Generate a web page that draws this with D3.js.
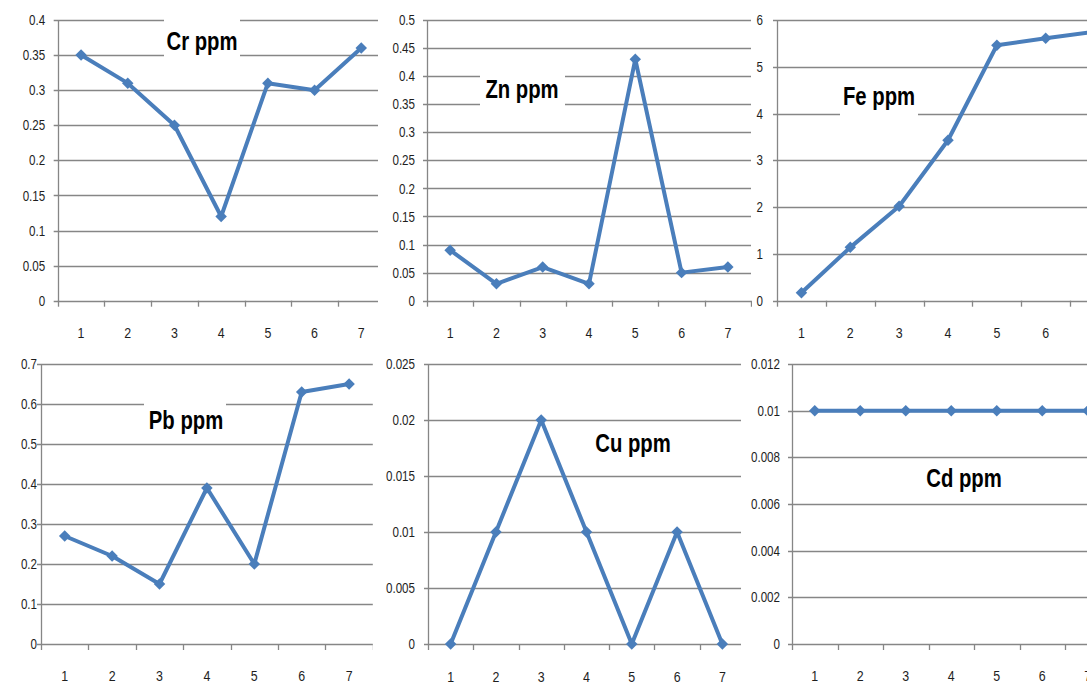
<!DOCTYPE html>
<html>
<head>
<meta charset="utf-8">
<script src="https://cdn.jsdelivr.net/npm/d3@7"></script>
<style>
  html, body { margin: 0; padding: 0; background: #fff; }
  svg { display: block; }
  .tick-label { font-family: "Liberation Sans", Arial, sans-serif; font-size: 14.5px; fill: #1e1e1e; }
  .title { font-family: "Liberation Sans", Arial, sans-serif; font-size: 26px; font-weight: bold; fill: #000; }
</style>
</head>
<body>
<svg id="chart" width="1087" height="686"></svg>
<script>
// ---- data ----
const categories = [1, 2, 3, 4, 5, 6, 7];
const crValues = [0.35, 0.31, 0.25, 0.12, 0.31, 0.30, 0.36];
const znValues = [0.09, 0.03, 0.06, 0.03, 0.43, 0.05, 0.06];
const feValues = [0.17, 1.14, 2.02, 3.43, 5.46, 5.61, 5.75];
const pbValues = [0.27, 0.22, 0.15, 0.39, 0.20, 0.63, 0.65];
const cuValues = [0, 0.01, 0.02, 0.01, 0, 0.01, 0];
const cdValues = [0.01, 0.01, 0.01, 0.01, 0.01, 0.01, 0.01];
const seriesList = [crValues, znValues, feValues, pbValues, cuValues, cdValues];
const titles = ["Cr ppm", "Zn ppm", "Fe ppm", "Pb ppm", "Cu ppm", "Cd ppm"];
const yMaxes = [0.4, 0.5, 6, 0.7, 0.025, 0.012];
const yStepsList = [0.05, 0.05, 1, 0.1, 0.005, 0.002];

// ---- layout (positions only) ----
const layout = [
  { axisX: 57.7, bandEnd: 384.6, cx0: 0,   cx1: 378,  rowTop: 0,   rowBot: 345, y0: 300.7, y1: 20,  gap: 12.5, xLabY: 338, tx: 202, ty: 50,  box: [164, 14, 240, 62] },
  { axisX: 427,  bandEnd: 751,   cx0: 378, cx1: 752,  rowTop: 0,   rowBot: 345, y0: 300.7, y1: 20,  gap: 12, xLabY: 338, tx: 522, ty: 98,  box: [480, 62, 565, 116] },
  { axisX: 777,  bandEnd: 1119,  cx0: 752, cx1: 1087, rowTop: 0,   rowBot: 345, y0: 300.7, y1: 20,  gap: 14, xLabY: 338, tx: 879, ty: 105, box: [840, 74, 918, 125] },
  { axisX: 41,   bandEnd: 372.8, cx0: 0,   cx1: 373,  rowTop: 345, rowBot: 686, y0: 644,   y1: 364, gap: 4,  xLabY: 681, tx: 186, ty: 429, box: [144, 392, 226, 440] },
  { axisX: 428,  bandEnd: 745,   cx0: 373, cx1: 741,  rowTop: 345, rowBot: 686, y0: 644,   y1: 364, gap: 13, xLabY: 682, tx: 633, ty: 452, box: null },
  { axisX: 792,  bandEnd: 1110.5,cx0: 741, cx1: 1087, rowTop: 345, rowBot: 686, y0: 644,   y1: 364, gap: 12, xLabY: 681, tx: 964, ty: 487, box: null }
];

const lineColor = "#4a7ebb";
const gridColor = "#868686";
const labelScale = 0.8;
const titleScale = 0.78;
const svg = d3.select("#chart");
const defs = svg.append("defs");

function fmt(v) { return String(+v.toFixed(6)); }

layout.forEach((L, i) => {
  const values = seriesList[i];
  const clipId = "clip" + i;
  defs.append("clipPath").attr("id", clipId)
    .append("rect").attr("x", L.cx0).attr("y", L.rowTop)
    .attr("width", L.cx1 - L.cx0).attr("height", L.rowBot - L.rowTop);

  const g = svg.append("g").attr("clip-path", `url(#${clipId})`);
  g.append("rect").attr("x", L.cx0).attr("y", L.rowTop)
    .attr("width", L.cx1 - L.cx0).attr("height", L.rowBot - L.rowTop).attr("fill", "#fff");

  const x = d3.scaleBand().domain(categories).range([L.axisX, L.bandEnd]).padding(0);
  const y = d3.scaleLinear().domain([0, yMaxes[i]]).range([L.y0, L.y1]);
  const ticks = d3.range(0, yMaxes[i] + yStepsList[i] / 2, yStepsList[i]);

  // gridlines
  g.selectAll(".grid").data(ticks).join("line")
    .attr("x1", L.axisX - 4).attr("x2", L.bandEnd)
    .attr("y1", d => Math.round(y(d)) + 0.5).attr("y2", d => Math.round(y(d)) + 0.5)
    .attr("stroke", gridColor).attr("stroke-width", 1.3);

  // y axis line
  g.append("line").attr("x1", Math.round(L.axisX) + 0.5).attr("x2", Math.round(L.axisX) + 0.5)
    .attr("y1", y(yMaxes[i])).attr("y2", y(0) + 0.5)
    .attr("stroke", gridColor).attr("stroke-width", 1.3);

  // x tick marks at band edges
  const edges = categories.map(c => x(c)).concat([x(categories[categories.length - 1]) + x.bandwidth()]);
  g.selectAll(".xt").data(edges).join("line")
    .attr("x1", d => Math.round(d) + 0.5).attr("x2", d => Math.round(d) + 0.5)
    .attr("y1", y(0)).attr("y2", y(0) + 6)
    .attr("stroke", gridColor).attr("stroke-width", 1.3);

  // y tick labels
  g.selectAll(".yl").data(ticks).join("g")
    .attr("transform", d => `translate(${L.axisX - L.gap},${y(d)}) scale(${labelScale},1)`)
    .append("text").attr("class", "tick-label").attr("dy", "0.35em")
    .attr("text-anchor", "end").text(d => fmt(d));

  // x tick labels
  g.selectAll(".xl").data(categories).join("g")
    .attr("transform", d => `translate(${x(d) + x.bandwidth() / 2},${L.xLabY}) scale(${labelScale},1)`)
    .append("text").attr("class", "tick-label").style("font-size", "15.5px")
    .attr("text-anchor", "middle").text(d => d);

  // title box + title
  if (L.box) {
    g.append("rect").attr("x", L.box[0]).attr("y", L.box[1])
      .attr("width", L.box[2] - L.box[0]).attr("height", L.box[3] - L.box[1]).attr("fill", "#fff");
  }
  g.append("g").attr("transform", `translate(${L.tx},${L.ty}) scale(${titleScale},1)`)
    .append("text").attr("class", "title").attr("text-anchor", "middle").text(titles[i]);

  // line + markers
  const line = d3.line().x((d, k) => x(categories[k]) + x.bandwidth() / 2).y(d => y(d));
  g.append("path").datum(values).attr("d", line)
    .attr("fill", "none").attr("stroke", lineColor).attr("stroke-width", 4)
    .attr("stroke-linejoin", "round");
  const sym = d3.symbol(d3.symbolSquare, 66);
  g.selectAll(".mk").data(values).join("path")
    .attr("d", sym)
    .attr("transform", (d, k) => `translate(${x(categories[k]) + x.bandwidth() / 2},${y(d)}) rotate(45)`)
    .attr("fill", lineColor);
});
</script>
</body>
</html>
